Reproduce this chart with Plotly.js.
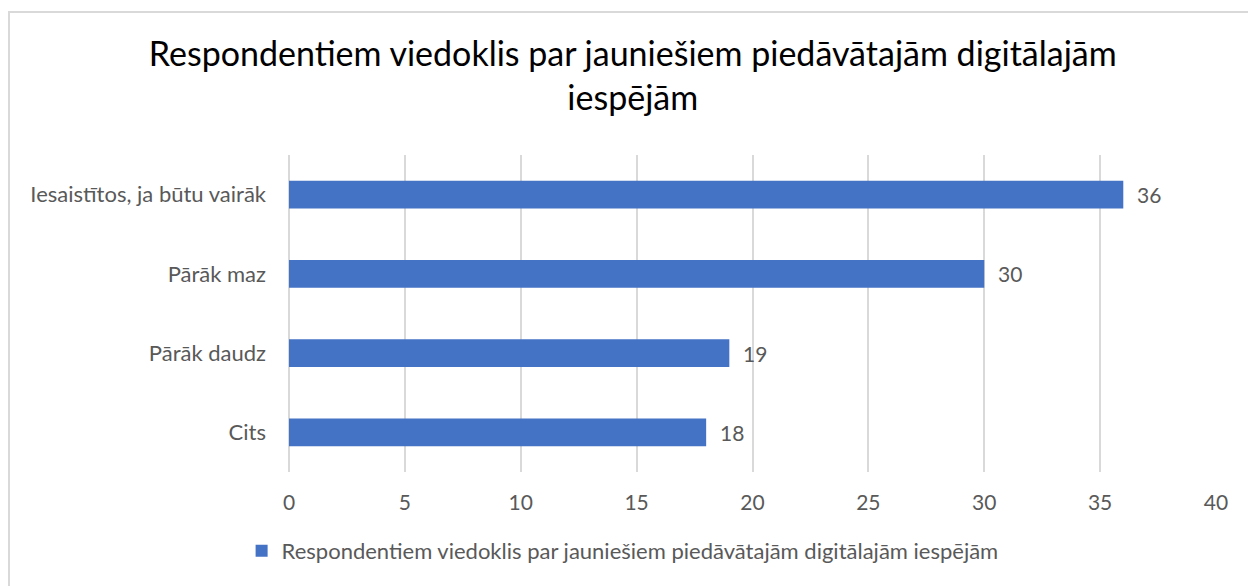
<!DOCTYPE html>
<html>
<head>
<meta charset="utf-8">
<script src="https://cdn.plot.ly/plotly-3.0.1.min.js"></script>
<style>
  body { margin: 0; background: #fff; }
  #chart { width: 1248px; height: 586px; }
  #frame { position: absolute; left: 8px; top: 11px; width: 1300px; height: 700px;
           border-left: 2px solid #d9d9d9; border-top: 2px solid #d9d9d9; pointer-events: none; }
</style>
</head>
<body>
<div id="chart"></div>
<div id="frame"></div>
<script>
const categories = ["Cits", "Pārāk daudz", "Pārāk maz", "Iesaistītos, ja būtu vairāk"];
const values = [18, 19, 30, 36];
const seriesName = "Respondentiem viedoklis par jauniešiem piedāvātajām digitālajām iespējām";
const xTicks = [0, 5, 10, 15, 20, 25, 30, 35, 40];

const font = "Lato, 'Open Sans', sans-serif";
const grey = "#595959";

const traces = [{
    type: "bar",
    orientation: "h",
    name: seriesName,
    y: categories,
    x: values,
    marker: { color: "#4472c4" },
    hoverinfo: "x+y"
}];

// data labels a bit right of each bar end
const labels = values.map((v, i) => ({
    x: v, y: categories[i],
    xref: "x", yref: "y",
    text: String(v),
    showarrow: false,
    xanchor: "left",
    xshift: 12,
    font: { family: font, size: 21, color: grey }
}));

const layout = {
    title: {
        text: "Respondentiem viedoklis par jauniešiem piedāvātajām digitālajām<br>iespējām",
        font: { family: font, size: 34, color: "#000" },
        x: 0.507, xanchor: "center",
        y: 0.888, yanchor: "top"
    },
    margin: { l: 289, r: 32, t: 155, b: 114 },
    bargap: 0.65,
    showlegend: true,
    legend: {
        orientation: "h",
        xref: "container", yref: "container",
        x: 0.1936, xanchor: "left",
        y: 0.06, yanchor: "middle",
        itemwidth: 30,
        font: { family: font, size: 22, color: grey }
    },
    xaxis: {
        range: [0, 40],
        tickvals: xTicks,
        showgrid: true,
        gridcolor: "#d9d9d9",
        gridwidth: 2,
        zeroline: true,
        zerolinecolor: "#d9d9d9",
        zerolinewidth: 2,
        showline: false,
        ticks: "",
        ticklen: 0,
        ticklabelstandoff: 16,
        tickfont: { family: font, size: 21, color: grey },
        fixedrange: true
    },
    yaxis: {
        showgrid: false,
        zeroline: false,
        ticks: "",
        ticklabelstandoff: 22,
        tickfont: { family: font, size: 22, color: grey },
        fixedrange: true
    },
    annotations: labels,
    paper_bgcolor: "#fff",
    plot_bgcolor: "#fff",
    font: { family: font }
};

Plotly.newPlot("chart", traces, layout, { displayModeBar: false, responsive: false });
</script>
</body>
</html>
